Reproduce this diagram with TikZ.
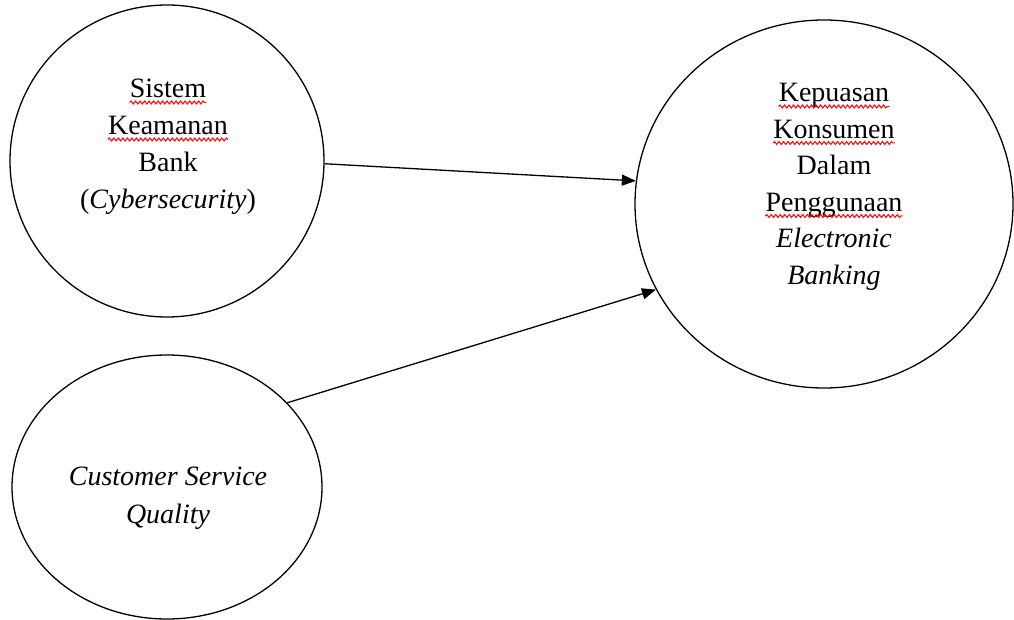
\documentclass[tikz,border=0pt]{standalone}
\usepackage{fontspec}
\setmainfont{Liberation Serif}
\usetikzlibrary{arrows.meta,shapes.geometric,decorations.pathmorphing}
\begin{document}
\begin{tikzpicture}[x=1pt,y=-1pt,
  bubble/.style={draw,ellipse,line width=1.3pt,inner sep=0pt},
  lbl/.style={anchor=base,inner sep=0pt,font=\fontsize{28}{34}\selectfont},
  conn/.style={line width=1.3pt,-{Triangle[length=14pt,width=11pt]}},
  squig/.style={draw=red,line width=1pt,decorate,decoration={snake,amplitude=1.5pt,segment length=4.5pt}}]
\useasboundingbox (0,0) rectangle (1014,620);
% bubbles
\node[bubble,minimum width=314pt,minimum height=312pt] (c1) at (167,161) {};
\node[bubble,minimum width=378pt,minimum height=368pt] (c2) at (824,204) {};
\node[bubble,minimum width=310pt,minimum height=264pt] (c3) at (167,487) {};
% texts circle 1
\node[lbl] (a1) at (168,98) {Sistem};
\node[lbl] (a2) at (168,135) {Keamanan};
\node[lbl] (a3) at (168,172) {Bank};
\node[lbl] (a4) at (168,209) {(\textit{Cybersecurity})};
% texts circle 2
\node[lbl] (b1) at (834,102) {Kepuasan};
\node[lbl] (b2) at (834,138.5) {Konsumen};
\node[lbl] (b3) at (834,175) {Dalam};
\node[lbl] (b4) at (834,211.5) {Penggunaan};
\node[lbl] (b5) at (834,248) {\textit{Electronic}};
\node[lbl] (b6) at (834,284.5) {\textit{Banking}};
% texts circle 3
\node[lbl] (d1) at (168,485) {\textit{Customer Service}};
\node[lbl] (d2) at (168,523) {\textit{Quality}};
% spell-check squiggles
\foreach \n in {a1,a2,b1,b2,b4}
  \draw[squig] ([yshift=-4.5pt]\n.base west) -- ([yshift=-4.5pt]\n.base east);
% connectors
\draw[conn] (c1.-1.5) -- (c2.173.8);
\draw[conn] (c3.35) -- (c2.207.5);
\end{tikzpicture}
\end{document}
